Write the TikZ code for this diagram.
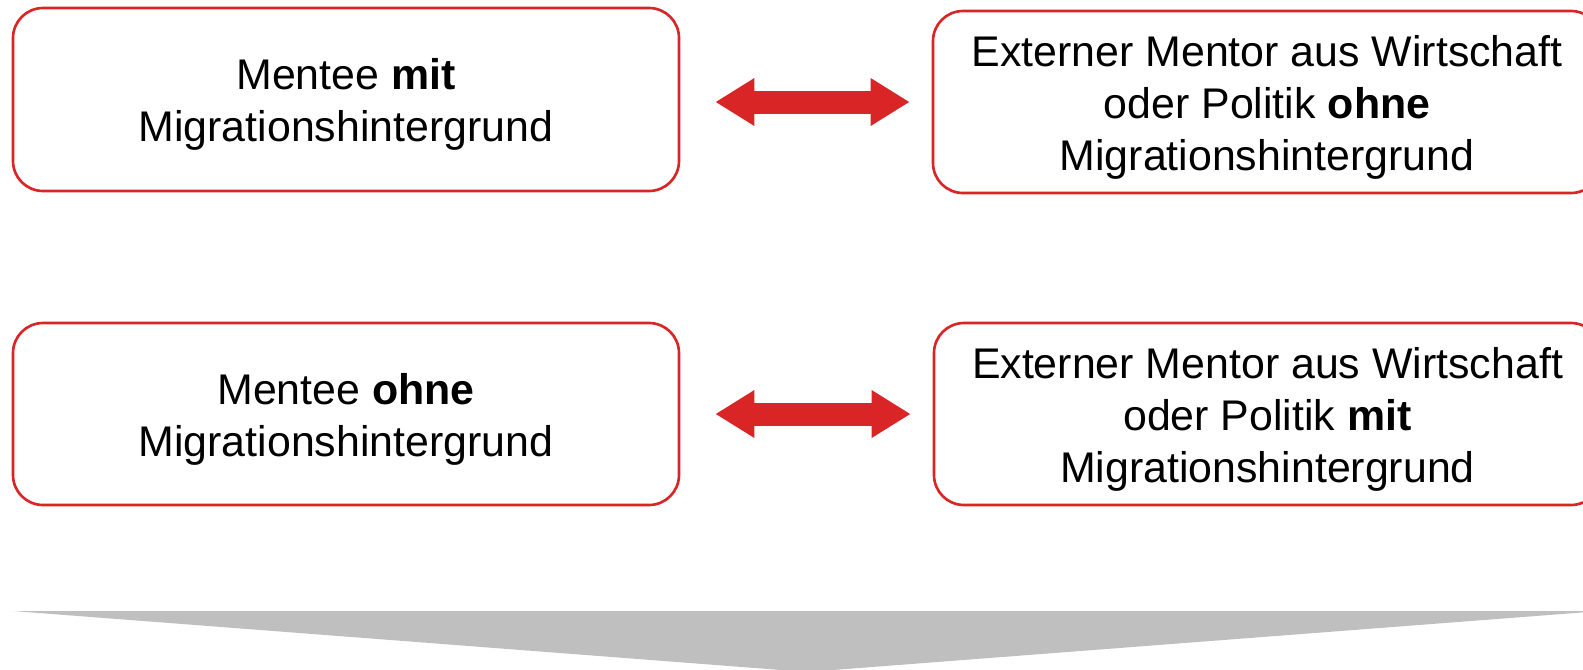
\documentclass[tikz,border=0pt]{standalone}
\usepackage{fontspec}
\setmainfont{Liberation Sans}
\usepackage{tikz}
\usetikzlibrary{positioning,calc,arrows.meta}
\definecolor{boxred}{RGB}{218,37,39}
\definecolor{bargray}{RGB}{191,191,191}
\newcommand{\topstrut}{\rule{0pt}{23.5pt}}
\tikzset{
  pairbox/.style={draw=boxred, line width=1.5pt, rounded corners=0.6cm, fill=white,
    minimum width=13.34cm, minimum height=3.64cm, align=center, inner sep=0pt,
    font=\fontsize{24.4}{29.6}\selectfont},
  pairarrow/.style={boxred, line width=0.46cm,
    {Triangle[length=0.78cm, width=0.9cm]}-{Triangle[length=0.78cm, width=0.9cm]}}
}

\begin{document}
\begin{tikzpicture}
        \useasboundingbox (0,0) rectangle (31.66,-13.38);
        \clip (0,0) rectangle (31.66,-13.38);
        \node[pairbox, minimum width=13.32cm, minimum height=3.66cm] (mentMit) at (6.92,-1.99)
          {\topstrut Mentee \textbf{mit}\\Migrationshintergrund};
        \node[pairbox, minimum width=13.36cm] (extOhne) at (25.34,-2.04)
          {\topstrut Externer Mentor aus Wirtschaft\\oder Politik \textbf{ohne}\\Migrationshintergrund};
        \node[pairbox, minimum width=13.32cm] (mentOhne) at (6.92,-8.28)
          {\topstrut Mentee \textbf{ohne}\\Migrationshintergrund};
        \node[pairbox] (extMit) at (25.35,-8.28)
          {\topstrut Externer Mentor aus Wirtschaft\\oder Politik \textbf{mit}\\Migrationshintergrund};
        \draw[pairarrow, shorten <=0.7cm, shorten >=0.44cm] ($(mentMit.east)+(0,-0.05)$) -- ($(mentMit.east -| extOhne.west)+(0,-0.05)$);
        \draw[pairarrow, shorten <=0.7cm, shorten >=0.44cm] (mentOhne.east) -- (mentOhne.east -| extMit.west);
        \fill[bargray] (0.26,-12.22) -- (32.02,-12.22) -- (16.14,-13.44) -- cycle;
    \end{tikzpicture}
\end{document}
